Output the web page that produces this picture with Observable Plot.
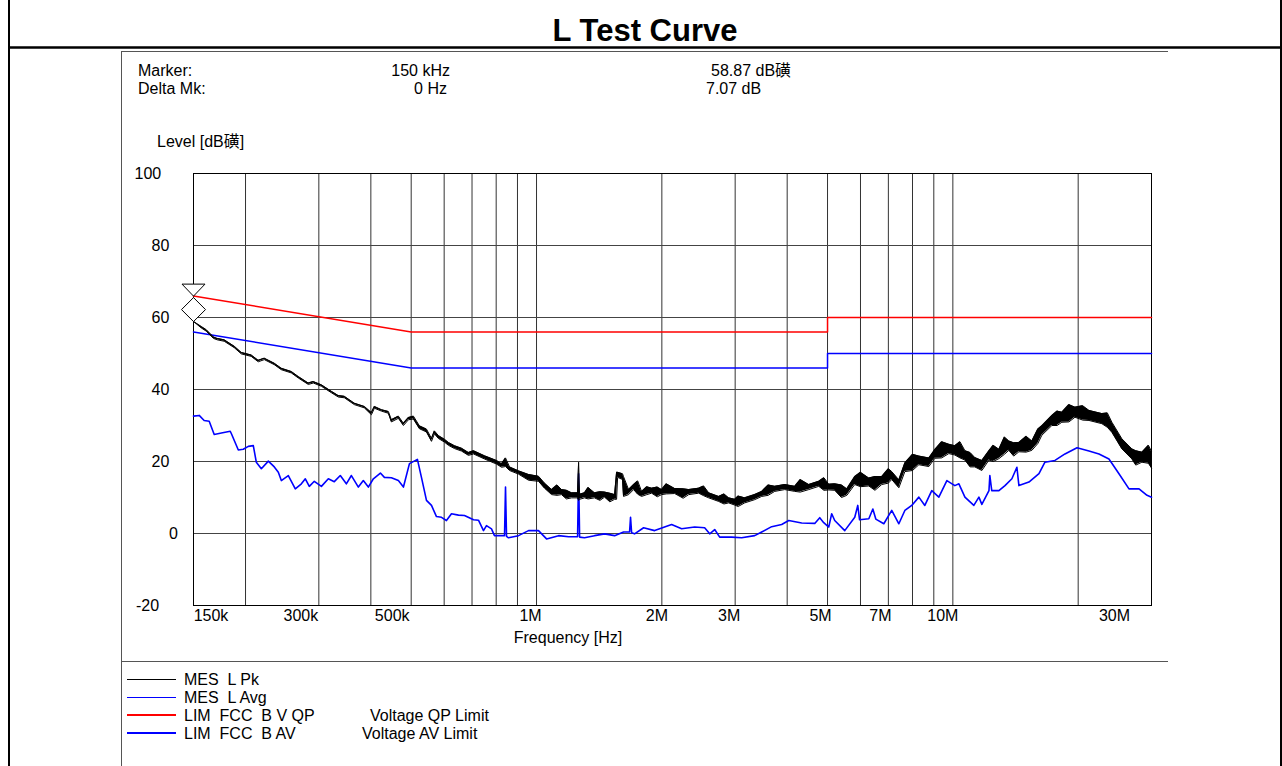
<!DOCTYPE html>
<html>
<head>
<meta charset="utf-8">
<script src="https://cdn.jsdelivr.net/npm/d3@7"></script>
<script src="https://cdn.jsdelivr.net/npm/@observablehq/plot@0.6"></script>
<style>
  html, body { margin: 0; padding: 0; background: #fff; }
  #page { position: relative; width: 1282px; height: 766px; overflow: hidden; background: #fff;
          font-family: "Liberation Sans", Arial, "Noto Sans CJK SC", sans-serif; }
  #deco { position: absolute; left: 0; top: 0; }
  #deco text { white-space: pre; }
  #chart { position: absolute; left: 0; top: 150px; }
  #chart svg { display: block; }
</style>
</head>
<body>
<div id="page">
  <svg id="deco" width="1282" height="766" font-family="Liberation Sans, Arial, Noto Sans CJK SC, sans-serif" font-size="16">
    <line x1="9" y1="0" x2="9" y2="766" stroke="#000" stroke-width="2"/>
    <line x1="1281" y1="0" x2="1281" y2="766" stroke="#000" stroke-width="2"/>
    <line x1="8" y1="47.5" x2="1282" y2="47.5" stroke="#000" stroke-width="2.5"/>
    <line x1="121.5" y1="51" x2="121.5" y2="766" stroke="#555" stroke-width="1"/>
    <line x1="121" y1="51.5" x2="1168" y2="51.5" stroke="#555" stroke-width="1.2"/>
    <line x1="121" y1="661.5" x2="1168" y2="661.5" stroke="#555" stroke-width="1.2"/>
    <g id="texts"></g>
    <g id="legend"></g>
  </svg>
  <div id="chart"></div>
</div>
<script>
// ---------------- data ----------------
const chartTitle = "L Test Curve";
const markerRows = [
  ["Marker:", "150 kHz", "58.87 dB磺"],
  ["Delta Mk:", "0 Hz", "7.07 dB"]
];
const yAxisTitle = "Level [dB磺]";
const xAxisTitle = "Frequency [Hz]";

const gridFreqs = [0.2, 0.3, 0.4, 0.5, 0.6, 0.7, 0.8, 0.9, 1, 2, 3, 4, 5, 6, 7, 8, 9, 10, 20];
const gridLevels = [-20, 0, 20, 40, 60, 80, 100];

const yTickValues = [100, 80, 60, 40, 20, 0, -20];
const yTickLabels = ["100", "80", "60", "40", "20", "0", "-20"];
const xTickValues = [0.15, 0.3, 0.5, 1, 2, 3, 5, 7, 10, 30];
const xTickLabels = ["150k", "300k", "500k", "1M", "2M", "3M", "5M", "7M", "10M", "30M"];

// limit lines (MHz, dBµV)
const limitFreqs = [0.15, 0.5, 5, 5, 30];
const qpLimit = [66, 56, 56, 60, 60];
const avLimit = [56, 46, 46, 50, 50];

// measured peak trace: frequency (MHz), low / high edge of the noise band (dB)
const pkFreqs = [0.150,0.1566,0.161,0.1675,0.171,0.1778,0.188,0.1954,0.2064,0.2146,0.2219,0.2345,0.2438,0.2577,0.2678,0.283,0.291,0.3043,0.3216,0.3342,0.3455,0.3651,0.3859,0.4013,0.4079,0.4241,0.4407,0.4482,0.4658,0.479,0.4924,0.5062,0.5233,0.5441,0.5594,0.5685,0.5812,0.6008,0.6143,0.6351,0.6604,0.6863,0.7058,0.7499,0.8012,0.824,0.8424,0.8613,0.9051,0.9567,
  1.011,1.045,1.087,1.12,1.148,1.18,1.214,1.255,1.262,1.269,1.304,1.33,1.378,1.42,1.457,1.50,1.540,1.557,1.566,1.609,1.618,1.664,1.711,1.75,1.788,1.84,1.890,1.95,1.997,2.05,2.147,2.25,2.320,2.452,2.52,2.592,2.739,2.82,2.894,2.992,3.05,3.162,3.342,3.474,3.6,3.734,3.947,4.171,4.3,4.507,4.764,4.9,5.034,5.203,5.4,5.563,5.813,6.0,6.283,6.5,6.748,7.0,7.132,7.418,7.668,8.0,8.286,8.757,9.051,9.4,9.781,10.11,10.4,10.69,11.0,11.29,11.74,12.21,12.5,12.90,13.3,13.63,14.0,14.41,15.0,15.48,16.0,16.36,17.29,17.8,18.27,19.0,19.65,20.5,21.23,22.80,23.5,24.10,25.47,26.92,27.5,28.45,29.5,30.0];
const pkLow = [58.9,57.1,56.2,54.2,53.8,53.4,51.6,49.9,49.2,47.7,48.3,46.9,45.5,44.6,43.2,41.4,41.8,40.9,39.1,37.9,37.7,35.8,34.9,33.0,34.8,34.0,33.4,31.0,32.0,30.0,31.6,31.8,29.1,28.2,25.6,27.7,26.4,25.4,24.5,23.6,22.9,21.7,22.1,20.7,19.3,18.4,18.6,17.5,16.5,14.8,
  14.5,12.6,10.8,10.6,10.8,9.6,9.9,9.9,9.2,9.5,9.9,9.6,9.9,9.2,10.1,8.8,9.5,9.5,15.6,15.0,10.3,10.8,12.2,10.9,10.3,10.8,11.2,10.2,10.8,11.0,11.1,9.8,10.8,11.2,10.5,9.9,8.9,8.2,8.5,7.9,7.5,8.5,9.4,10.3,10.6,11.7,12.2,11.7,11.5,12.2,13.1,12.0,12.1,12.0,10.0,10.6,13.6,13.0,13.2,12.0,13.6,14.0,15.0,12.7,17.2,17.5,19.1,18.6,20.9,21.0,22.2,21.8,21.0,20.4,18.5,18.5,17.5,20.4,20.0,20.8,22.0,23.1,21.5,22.7,22.6,23.1,25.0,27.3,30.0,30.0,30.9,31.0,32.3,31.5,31.4,30.5,29.5,28.1,23.5,20.7,19.0,19.8,19.5,18.2];
const pkHigh = [58.9,57.5,56.6,54.6,54.2,53.8,52.0,50.3,49.6,48.1,48.7,47.3,45.9,45.0,43.6,41.8,42.2,41.3,39.5,38.3,38.1,36.2,35.3,33.6,35.3,34.4,33.9,31.6,32.6,30.6,32.2,32.6,29.9,29.0,26.4,28.5,27.2,26.2,25.3,24.4,23.7,22.5,23.0,21.6,20.3,19.4,21.0,18.5,17.4,16.4,
  15.9,14.0,12.2,13.5,12.2,12.0,11.3,11.3,19.8,10.9,11.3,12.8,11.3,11.6,11.5,11.2,10.8,17.0,17.0,16.6,15.8,12.2,13.6,14.6,11.7,13.0,12.6,12.9,12.2,13.8,12.5,12.4,12.2,12.6,13.2,11.3,10.3,11.0,9.9,9.5,10.4,9.9,10.8,11.7,13.5,13.1,13.6,13.1,15.0,13.6,14.5,15.5,13.7,13.8,13.5,12.4,15.8,17.0,15.4,15.8,15.8,18.0,17.2,14.9,19.6,22.0,21.5,21.0,23.3,25.5,24.8,24.4,25.5,23.0,22.5,21.1,20.3,23.0,24.5,23.4,26.8,25.7,25.2,25.3,27.0,25.7,29.0,29.9,32.8,34.0,33.7,35.8,35.1,35.5,34.2,33.3,33.5,30.9,26.3,23.5,23.0,22.6,24.5,22.8];

// measured average trace: frequency (MHz), level (dB)
const avgFreqs = [0.150,0.1548,0.1591,0.1636,0.1682,0.175,0.1838,0.185,0.1922,0.1975,0.2031,0.2088,0.2123,0.2183,0.2269,0.2345,0.2398,0.2438,0.2534,0.2634,0.2724,0.2784,0.2846,0.2926,0.3043,0.3162,0.3268,0.3378,0.3493,0.3592,0.3733,0.3837,0.3945,0.4056,0.4217,0.4311,0.4482,0.4658,0.479,0.4952,0.5175,0.5292,0.5441,0.5594,0.575,0.5912,0.6076,0.6248,0.6494,0.6714,0.7058,0.7254,0.7458,0.7582,0.7796,0.7925,0.824,0.8378,0.8424,0.8471,0.8566,0.9051,0.9567,1.011,1.057,1.130,1.194,1.255,1.262,1.269,1.304,1.378,1.457,1.540,1.618,1.673,1.682,1.692,1.720,1.808,1.922,2.111,2.231,2.398,2.534,2.606,2.679,2.754,2.942,3.110,3.342,3.474,3.671,3.880,4.035,4.334,4.659,4.789,4.896,5.034,5.117,5.203,5.500,5.813,5.910,5.970,6.283,6.424,6.530,6.826,7.132,7.418,7.668,7.966,8.286,8.564,8.899,9.254,9.674,10.11,10.34,10.69,11.23,11.55,11.74,12.21,12.27,12.40,12.90,13.34,13.86,14.25,14.41,15.23,16.10,16.64,17.59,18.59,19.87,21.23,22.44,23.71,25.06,26.49,28.00,29.27,30.0];
const avgLevels = [32.6,32.8,31.4,31.2,27.5,27.9,28.4,27.7,23.2,23.4,24.2,24.4,19.8,18.0,20.1,18.5,17.0,14.7,16.1,12.4,13.8,15.2,13.1,14.5,13.1,15.2,14.4,16.1,13.8,16.1,12.9,14.7,12.9,15.2,16.8,15.6,15.5,14.7,12.9,19.4,20.6,15.6,9.2,7.8,4.7,4.5,3.6,5.5,5.1,5.0,3.8,3.7,0.8,2.2,1.3,-0.6,-0.6,-0.6,12.9,-0.8,-1.2,-0.6,0.8,0.8,-1.5,-0.6,-0.9,-0.9,16.6,-1.0,-1.2,-0.6,-0.1,-0.6,0.4,0.4,4.5,0.2,-0.1,1.6,0.8,2.5,1.3,1.8,1.6,-0.1,1.1,-1.0,-1.0,-1.2,-0.6,0.4,1.9,2.5,3.6,2.9,2.8,4.4,3.0,1.8,5.5,3.6,0.8,4.5,7.8,3.8,4.1,6.8,4.0,2.7,6.4,2.7,6.4,7.8,10.1,7.8,11.9,10.1,14.7,13.3,13.8,10.1,7.8,10.1,8.1,11.9,16.1,11.9,11.9,13.3,15.2,18.4,13.3,14.3,16.6,19.8,20.3,22.1,23.8,22.9,22.1,20.7,16.6,12.4,12.4,10.6,10.1];

// marker readout
const markerFreq = 0.15;
const markerLevel = 58.87;
const markerDelta = 7.07;

// legend
const legendNames = ["MES  L Pk", "MES  L Avg", "LIM  FCC  B V QP", "LIM  FCC  B AV"];
const legendNotes = ["", "", "Voltage QP Limit", "Voltage AV Limit"];
const legendColors = ["#000000", "#0000ff", "#ff0000", "#0000ff"];

// ---------------- styling (not data) ----------------
const FONT = "Liberation Sans, Arial, Noto Sans CJK SC, sans-serif";
const yLabelShift = [-59, -42, -42, -42, -42, -24.5, -57.5];
const xLabelShift = [17.5, -18, -19, -6, -5, -6, -7, -8, -10, -37];
const legendWidths = [1, 1, 2, 2];
const noteX = [0, 0, 370, 362];

// ---------------- header / legend texts ----------------
const deco = d3.select("#deco");
const tg = deco.select("#texts");
tg.append("text").attr("x", 645).attr("y", 41).attr("text-anchor", "middle")
  .attr("font-size", 31).attr("font-weight", "bold").text(chartTitle);
const rowY = [76, 94];
markerRows.forEach((r, i) => {
  tg.append("text").attr("x", 138).attr("y", rowY[i]).text(r[0]);
  tg.append("text").attr("x", i === 0 ? 450 : 447).attr("y", rowY[i]).attr("text-anchor", "end").text(r[1]);
  tg.append("text").attr("x", i === 0 ? 711 : 706).attr("y", rowY[i]).text(r[2]);
});
tg.append("text").attr("x", 157).attr("y", 147).text(yAxisTitle);

const lg = deco.select("#legend");
legendNames.forEach((n, i) => {
  const y = 679 + i * 18;
  const ly = legendWidths[i] % 2 === 1 ? y + 0.5 : y;
  lg.append("line").attr("x1", 127).attr("x2", 176).attr("y1", ly).attr("y2", ly)
    .attr("stroke", legendColors[i]).attr("stroke-width", legendWidths[i]);
  lg.append("text").attr("x", 184).attr("y", y + 5.5).text(n);
  if (legendNotes[i]) lg.append("text").attr("x", noteX[i]).attr("y", y + 5.5).text(legendNotes[i]);
});

// ---------------- chart ----------------
const limits = limitFreqs.map((f, i) => ({f, qp: qpLimit[i], av: avLimit[i]}));
const pk = pkFreqs.map((f, i) => ({f, lo: pkLow[i], hi: pkHigh[i]}));
const avg = avgFreqs.map((f, i) => ({f, v: avgLevels[i]}));

const triDown = { draw(ctx) { ctx.moveTo(0, 0); ctx.lineTo(-11.5, -12); ctx.lineTo(11.5, -12); ctx.closePath(); } };
const diamond = { draw(ctx) { ctx.moveTo(0, 0); ctx.lineTo(12, -12); ctx.lineTo(0, -24); ctx.lineTo(-12, -12); ctx.closePath(); } };

const marks = [
  Plot.ruleX(gridFreqs, {stroke: "#333", strokeWidth: 1}),
  Plot.ruleY(gridLevels, {stroke: "#444", strokeWidth: 1}),
  Plot.frame({stroke: "#000", strokeWidth: 1}),
  Plot.line(limits, {x: "f", y: "qp", stroke: "#ff0000", strokeWidth: 1.5}),
  Plot.line(limits, {x: "f", y: "av", stroke: "#0000ff", strokeWidth: 1.5}),
  Plot.line(avg, {x: "f", y: "v", stroke: "#0000ff", strokeWidth: 1.6}),
  Plot.areaY(pk, {x: "f", y1: "lo", y2: "hi", fill: "#000"}),
  Plot.line(pk, {x: "f", y: "lo", stroke: "#000", strokeWidth: 1}),
  Plot.line(pk, {x: "f", y: "hi", stroke: "#000", strokeWidth: 1}),
  Plot.dot([{f: markerFreq, v: markerLevel}], {x: "f", y: "v", symbol: diamond, fill: "#fff", stroke: "#000", strokeWidth: 1}),
  Plot.dot([{f: markerFreq, v: markerLevel + markerDelta}], {x: "f", y: "v", symbol: triDown, fill: "#fff", stroke: "#000", strokeWidth: 1}),
  ...yTickValues.map((v, i) => Plot.text([v], {
    y: d => d, text: [yTickLabels[i]], frameAnchor: "left", textAnchor: "start",
    dx: yLabelShift[i], fontSize: 16, fill: "#000"
  })),
  ...xTickValues.map((v, i) => Plot.text([v], {
    x: d => d, text: [xTickLabels[i]], frameAnchor: "bottom", textAnchor: "middle",
    dx: xLabelShift[i], dy: 15, fontSize: 16, fill: "#000"
  })),
  Plot.text([xAxisTitle], {text: d => d, frameAnchor: "bottom", dx: -104.5, dy: 37, fontSize: 16, fill: "#000"})
];

const chart = Plot.plot({
  width: 1282,
  height: 505,
  marginTop: 23,
  marginBottom: 50,
  marginLeft: 193,
  marginRight: 131,
  x: {type: "log", domain: [0.15, 30], axis: null},
  y: {domain: [-20, 100], axis: null},
  style: {fontFamily: FONT, fontSize: "16px", background: "transparent", overflow: "visible", color: "#000"},
  marks
});
document.getElementById("chart").appendChild(chart);
</script>
</body>
</html>
